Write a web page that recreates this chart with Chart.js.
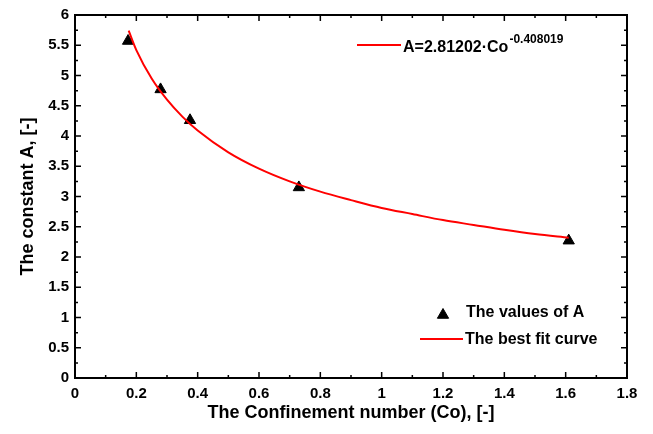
<!DOCTYPE html>
<html>
<head>
<meta charset="utf-8">
<script src="https://cdn.jsdelivr.net/npm/chart.js@4.4.1/dist/chart.umd.min.js"></script>
<style>
  html, body { margin: 0; padding: 0; background: #fff; }
  #wrap { width: 653px; height: 434px; position: relative; }
</style>
</head>
<body>
<div id="wrap"><canvas id="chart"></canvas></div>
<script>
// ===== DATA =====
const coValues = [0.173, 0.279, 0.375, 0.730, 1.610];
const aValues  = [5.57, 4.77, 4.26, 3.15, 2.27];

// best fit curve
const fitCo = [0.175, 0.2, 0.25, 0.3, 0.35, 0.4, 0.5, 0.6, 0.7, 0.8, 0.9, 1.0, 1.1, 1.2, 1.3, 1.4, 1.5, 1.61];
const fitA  = [5.74, 5.42, 4.95, 4.60, 4.32, 4.09, 3.73, 3.46, 3.25, 3.08, 2.94, 2.81, 2.71, 2.61, 2.53, 2.45, 2.38, 2.32];

const xTicks = [0, 0.2, 0.4, 0.6, 0.8, 1, 1.2, 1.4, 1.6, 1.8];
const xTickLabels = ['0', '0.2', '0.4', '0.6', '0.8', '1', '1.2', '1.4', '1.6', '1.8'];
const yTicks = [0, 0.5, 1, 1.5, 2, 2.5, 3, 3.5, 4, 4.5, 5, 5.5, 6];
const yTickLabels = ['0', '0.5', '1', '1.5', '2', '2.5', '3', '3.5', '4', '4.5', '5', '5.5', '6'];

const FONT = "'Liberation Sans', Arial, sans-serif";

// ===== FRAME + INWARD TICKS =====
const framePlugin = {
    id: 'frame',
    afterDraw(chart) {
        const { ctx, chartArea: a, scales: { x, y } } = chart;
        ctx.save();
        ctx.strokeStyle = '#000';
        ctx.lineWidth = 1.5;
        ctx.beginPath();
        const mark = (vals, isX, len) => {
            vals.forEach(v => {
                if (isX) {
                    const px = x.getPixelForValue(v);
                    ctx.moveTo(px, a.bottom); ctx.lineTo(px, a.bottom - len);
                    ctx.moveTo(px, a.top); ctx.lineTo(px, a.top + len);
                } else {
                    const py = y.getPixelForValue(v);
                    ctx.moveTo(a.left, py); ctx.lineTo(a.left + len, py);
                    ctx.moveTo(a.right, py); ctx.lineTo(a.right - len, py);
                }
            });
        };
        const mids = arr => arr.slice(1).map((v, i) => (v + arr[i]) / 2);
        mark(xTicks, true, 6);
        mark(mids(xTicks), true, 3);
        mark(yTicks, false, 6);
        mark(mids(yTicks), false, 3);
        ctx.stroke();

        ctx.lineWidth = 2;
        ctx.strokeRect(a.left, a.top, a.right - a.left, a.bottom - a.top);
        ctx.restore();
    }
};

// ===== LEGENDS =====
const legendPlugin = {
    id: 'legendBoxes',
    afterDraw(chart) {
        const ctx = chart.ctx;
        ctx.save();
        ctx.fillStyle = '#000';
        ctx.strokeStyle = '#ff0000';
        ctx.lineWidth = 2;

        // fit equation
        ctx.beginPath();
        ctx.moveTo(357, 45); ctx.lineTo(401, 45);
        ctx.stroke();
        ctx.font = 'bold 16px ' + FONT;
        ctx.textBaseline = 'alphabetic';
        ctx.textAlign = 'left';
        const eq = 'A=2.81202\u00B7Co';
        ctx.fillText(eq, 403, 52);
        const w = ctx.measureText(eq).width;
        ctx.font = 'bold 12px ' + FONT;
        ctx.fillText('-0.408019', 403 + w + 1, 43);

        // series legend
        ctx.font = 'bold 16px ' + FONT;
        ctx.textBaseline = 'middle';
        ctx.strokeStyle = '#000';
        ctx.lineWidth = 1;
        Chart.helpers.drawPoint(ctx, { pointStyle: 'triangle', radius: 6.5, borderWidth: 1, rotation: 0 }, 443, 315);
        ctx.fillText('The values of A', 466, 313);

        ctx.strokeStyle = '#ff0000';
        ctx.lineWidth = 2;
        ctx.beginPath();
        ctx.moveTo(420, 339); ctx.lineTo(463, 339);
        ctx.stroke();
        ctx.fillText('The best fit curve', 465, 340);
        ctx.restore();
    }
};

// ===== CHART =====
function initChart() {
    const ctx = document.getElementById('chart');

    new Chart(ctx, {
        type: 'scatter',
        data: {
            datasets: [
                {
                    label: 'The values of A',
                    data: coValues.map((c, i) => ({ x: c, y: aValues[i] })),
                    pointStyle: 'triangle',
                    pointRadius: 6.5,
                    pointBackgroundColor: '#000',
                    pointBorderColor: '#000',
                    pointBorderWidth: 1,
                    order: 1
                },
                {
                    label: 'The best fit curve',
                    data: fitCo.map((c, i) => ({ x: c, y: fitA[i] })),
                    showLine: true,
                    borderColor: '#ff0000',
                    borderWidth: 2,
                    pointRadius: 0,
                    cubicInterpolationMode: 'monotone',
                    order: 0
                }
            ]
        },
        options: {
            responsive: true,
            maintainAspectRatio: false,
            animation: false,
            layout: { padding: { left: 0, right: 26, top: 13, bottom: 0 } },
            plugins: {
                legend: { display: false },
                tooltip: { enabled: false }
            },
            scales: {
                x: {
                    type: 'linear',
                    min: 0,
                    max: 1.8,
                    afterBuildTicks: s => { s.ticks = xTicks.map(v => ({ value: v })); },
                    afterFit: s => { s.height = 56; },
                    grid: { display: false, drawTicks: false },
                    border: { display: false },
                    ticks: {
                        color: '#000',
                        padding: 7,
                        maxRotation: 0,
                        autoSkip: false,
                        font: { family: FONT, size: 15, weight: 'bold' },
                        callback: (v, i) => xTickLabels[i]
                    },
                    title: {
                        display: true,
                        text: 'The Confinement number (Co), [-]',
                        color: '#000',
                        font: { family: FONT, size: 18, weight: 'bold' },
                        padding: { top: 0, bottom: 10 }
                    }
                },
                y: {
                    type: 'linear',
                    min: 0,
                    max: 6,
                    afterBuildTicks: s => { s.ticks = yTicks.map(v => ({ value: v })); },
                    afterFit: s => { s.width = 75; },
                    grid: { display: false, drawTicks: false },
                    border: { display: false },
                    ticks: {
                        color: '#000',
                        padding: 6,
                        autoSkip: false,
                        font: { family: FONT, size: 15, weight: 'bold' },
                        callback: (v, i) => yTickLabels[i]
                    },
                    title: {
                        display: true,
                        text: 'The constant A, [-]',
                        color: '#000',
                        font: { family: FONT, size: 18, weight: 'bold' },
                        padding: { top: 17, bottom: 0 }
                    }
                }
            }
        },
        plugins: [framePlugin, legendPlugin]
    });
}

document.addEventListener('DOMContentLoaded', initChart);
</script>
</body>
</html>
